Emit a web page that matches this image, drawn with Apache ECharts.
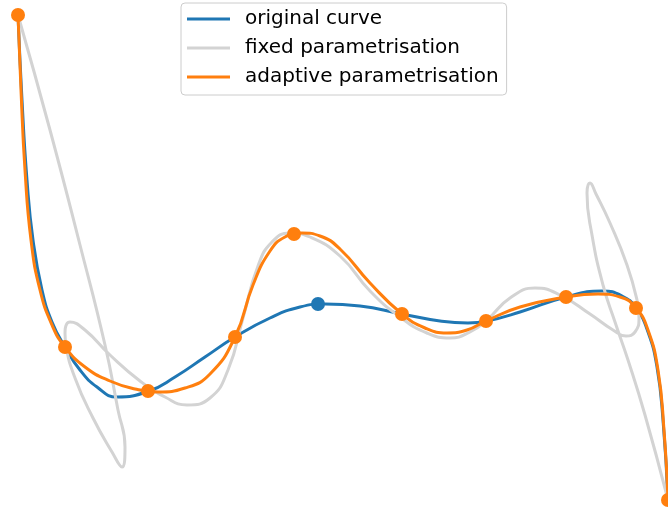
<!DOCTYPE html>
<html>
<head>
<meta charset="utf-8">
<script src="https://cdn.jsdelivr.net/npm/echarts@6/dist/echarts.min.js"></script>
<style>
  html, body { margin: 0; padding: 0; background: #fff; }
  #chart { width: 668px; height: 513px; }
</style>
</head>
<body>
<div id="chart"></div>
<script>
// curve samples, [x, y]
var originalCurve = [
  [0.18, 4.98], [0.22, 4.13], [0.27, 3.33], [0.33, 2.73], [0.42, 2.23], [0.52, 1.91],
  [0.65, 1.66], [0.80, 1.43], [0.97, 1.26], [1.17, 1.16], [1.49, 1.22], [1.75, 1.36],
  [2.05, 1.56], [2.35, 1.76], [2.70, 1.95], [3.00, 2.06], [3.25, 2.09], [3.60, 2.07],
  [4.02, 1.99], [4.40, 1.92], [4.68, 1.90], [4.87, 1.92], [5.20, 2.01], [5.66, 2.16],
  [6.02, 2.22], [6.22, 2.17], [6.36, 2.05], [6.48, 1.81], [6.57, 1.46], [6.63, 0.93],
  [6.68, 0.13]
];
var fixedCurve = [
  [0.18, 4.98], [0.50, 3.83], [0.80, 2.68], [1.05, 1.68], [1.18, 1.03], [1.25, 0.66],
  [1.22, 0.46], [1.12, 0.61], [0.93, 0.95], [0.75, 1.35], [0.66, 1.68], [0.65, 1.80],
  [0.70, 1.91], [0.85, 1.83], [1.10, 1.58], [1.40, 1.32], [1.65, 1.16], [1.87, 1.08],
  [2.10, 1.15], [2.28, 1.43], [2.43, 1.95], [2.58, 2.47], [2.72, 2.71], [2.90, 2.80],
  [3.10, 2.76], [3.40, 2.57], [3.70, 2.22], [4.00, 1.96], [4.27, 1.80], [4.50, 1.75],
  [4.70, 1.81], [4.87, 1.93], [5.10, 2.15], [5.35, 2.25], [5.60, 2.18], [5.90, 1.99],
  [6.13, 1.83], [6.26, 1.77], [6.35, 1.81], [6.39, 1.95], [6.37, 2.13], [6.27, 2.48],
  [6.10, 2.90], [5.96, 3.19], [5.90, 3.30], [5.87, 3.20], [5.92, 2.78], [6.03, 2.28],
  [6.15, 1.91], [6.28, 1.53], [6.45, 0.98], [6.68, 0.13]
];
var adaptiveCurve = [
  [0.18, 4.98], [0.21, 4.23], [0.25, 3.43], [0.31, 2.73], [0.40, 2.23], [0.52, 1.88],
  [0.65, 1.66], [0.85, 1.46], [1.10, 1.32], [1.35, 1.24], [1.58, 1.21], [1.85, 1.25],
  [2.10, 1.39], [2.35, 1.76], [2.53, 2.28], [2.70, 2.62], [2.85, 2.76], [3.02, 2.80],
  [3.20, 2.77], [3.40, 2.64], [3.70, 2.30], [4.02, 1.99], [4.25, 1.85], [4.47, 1.80],
  [4.67, 1.83], [4.86, 1.92], [5.20, 2.06], [5.66, 2.16], [5.98, 2.19], [6.20, 2.16],
  [6.36, 2.05], [6.48, 1.83], [6.58, 1.43], [6.64, 0.83], [6.68, 0.13]
];
// interpolation points
var dataPoints = [
  [0.18, 4.98], [0.65, 1.66], [1.48, 1.22], [2.35, 1.76], [2.94, 2.79],
  [4.02, 1.99], [4.86, 1.92], [5.66, 2.16], [6.36, 2.05], [6.68, 0.13]
];
var movedPoint = [[3.18, 2.09]];

var myChart = echarts.init(document.getElementById('chart'));

function curve(name, data, color) {
  return {
    name: name,
    type: 'line',
    data: data,
    smooth: 0.5,
    showSymbol: false,
    silent: true,
    lineStyle: { color: color, width: 3 },
    itemStyle: { color: color }
  };
}

var option = {
  animation: false,
  grid: { left: 0, right: 0, top: 0, bottom: 0 },
  xAxis: { type: 'value', min: 0, max: 6.68, show: false },
  yAxis: { type: 'value', min: 0, max: 5.13, show: false },
  legend: {
    orient: 'vertical',
    left: 181,
    top: 3,
    padding: [6, 8, 8, 6],
    itemGap: 9,
    itemWidth: 43,
    itemHeight: 3,
    icon: 'rect',
    backgroundColor: 'rgba(255,255,255,0.8)',
    borderColor: '#cccccc',
    borderWidth: 1,
    borderRadius: 4,
    textStyle: {
      fontFamily: 'DejaVu Sans',
      fontSize: 20,
      lineHeight: 20,
      color: '#000',
      padding: [0, 0, 0, 10]
    },
    data: ['original curve', 'fixed parametrisation', 'adaptive parametrisation']
  },
  series: [
    curve('original curve', originalCurve, '#1f77b4'),
    curve('fixed parametrisation', fixedCurve, '#d3d3d3'),
    curve('adaptive parametrisation', adaptiveCurve, '#ff7f0e'),
    {
      type: 'scatter',
      data: movedPoint,
      symbolSize: 14,
      itemStyle: { color: '#1f77b4', opacity: 1 },
      z: 5
    },
    {
      type: 'scatter',
      data: dataPoints,
      symbolSize: 14,
      itemStyle: { color: '#ff7f0e', opacity: 1 },
      z: 5
    }
  ]
};
myChart.setOption(option);
</script>
</body>
</html>
